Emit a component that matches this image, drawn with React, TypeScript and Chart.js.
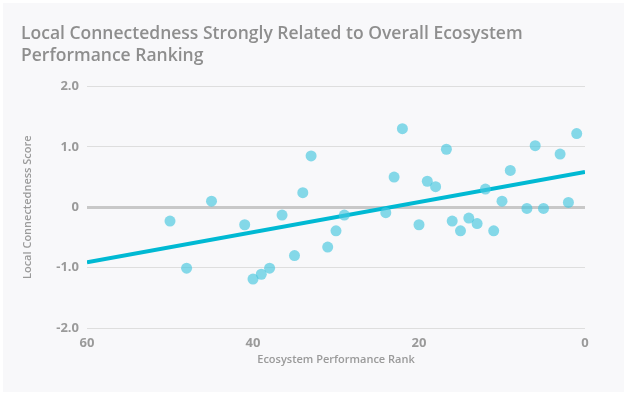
import React, { useEffect, useRef } from "react";
import { Chart, registerables } from "chart.js";

Chart.register(...registerables);

const ranks = [50, 48, 45, 41, 40, 39, 38, 36.5, 35, 34, 33, 31, 30, 29, 24, 23, 22, 20, 19, 18, 16.7, 16, 15, 14, 13, 12, 11, 10, 9, 7, 6, 5, 3, 2, 1];
const scores = [-0.23, -1.01, 0.1, -0.29, -1.19, -1.11, -1.01, -0.13, -0.8, 0.24, 0.85, -0.66, -0.39, -0.13, -0.09, 0.5, 1.3, -0.29, 0.43, 0.34, 0.96, -0.23, -0.39, -0.18, -0.27, 0.3, -0.39, 0.1, 0.61, -0.02, 1.02, -0.02, 0.88, 0.08, 1.22];
const trendX = [60, 0];
const trendY = [-0.91, 0.585];
const yTicks = [2, 1, 0, -1, -2];
const yTickLabels = ["2.0", "1.0", "0", "-1.0", "-2.0"];
const xTicks = [60, 40, 20, 0];
const titleLines = ["Local Connectedness Strongly Related to Overall Ecosystem", "Performance Ranking"];

const FONT = "'Open Sans', sans-serif";

export default function App() {
  const ref = useRef<HTMLCanvasElement | null>(null);
  useEffect(() => {
    const prevMargin = document.body.style.margin;
    document.body.style.margin = "0";
    const chart = new Chart(ref.current as HTMLCanvasElement, {
      type: "scatter",
      data: {
        datasets: [
          {
            type: "line",
            data: trendX.map((x, i) => ({ x, y: trendY[i] })),
            borderColor: "#00b9d3",
            borderWidth: 4,
            pointRadius: 0,
            fill: false,
            order: 2,
          } as any,
          {
            data: ranks.map((x, i) => ({ x, y: scores[i] })),
            backgroundColor: "rgba(72,199,223,0.66)",
            borderWidth: 0,
            pointRadius: 5.5,
            order: 1,
          },
        ],
      },
      options: {
        animation: false,
        responsive: false,
        layout: { padding: { left: 18, right: 39, top: 20, bottom: 26 } },
        plugins: {
          legend: { display: false },
          tooltip: { enabled: false },
          title: {
            display: true,
            text: titleLines,
            align: "start",
            color: "#8e8e8e",
            font: { family: FONT, size: 17.5, weight: "600" as any, lineHeight: 1.27 },
            padding: { top: 0, bottom: 19 },
          },
        },
        scales: {
          x: {
            type: "linear",
            reverse: true,
            min: 0,
            max: 60,
            afterBuildTicks: (s: any) => {
              s.ticks = xTicks.map((v) => ({ value: v }));
            },
            afterFit: (s: any) => {
              s.height = 38;
            },
            grid: { display: false, drawTicks: false },
            border: { display: false },
            ticks: {
              color: "#9a9a9a",
              font: { family: FONT, size: 13, weight: "bold" as any },
              padding: 7,
              maxRotation: 0,
            },
            title: {
              display: true,
              text: "Ecosystem Performance Rank",
              color: "#9a9a9a",
              font: { family: FONT, size: 11, weight: "600" as any },
              padding: { top: 0, bottom: 0 },
            },
          },
          y: {
            type: "linear",
            min: -2,
            max: 2,
            afterBuildTicks: (s: any) => {
              s.ticks = yTicks.map((v) => ({ value: v }));
            },
            afterFit: (s: any) => {
              s.width = 66;
            },
            grid: {
              color: (c: any) => (c.tick && c.tick.value === 0 ? "#c8c8c8" : "#dedede"),
              lineWidth: (c: any) => (c.tick && c.tick.value === 0 ? 3 : 1),
              drawTicks: false,
            },
            border: { display: false },
            ticks: {
              color: "#9a9a9a",
              font: { family: FONT, size: 13, weight: "bold" as any },
              padding: 8,
              callback: (v: any) => {
                const i = yTicks.indexOf(Number(v));
                return i >= 0 ? yTickLabels[i] : "";
              },
            },
            title: {
              display: true,
              text: "Local Connectedness Score",
              color: "#9a9a9a",
              font: { family: FONT, size: 11, weight: "600" as any },
              padding: { top: 0, bottom: 0 },
            },
          },
        },
      },
    });
    return () => {
      chart.destroy();
      document.body.style.margin = prevMargin;
    };
  }, []);
  return (
    <div style={{ position: "absolute", left: 3, top: 3, width: 621, height: 389, background: "#f8f8fa" }}>
      <canvas ref={ref} width={621} height={389} style={{ display: "block" }} />
    </div>
  );
}
